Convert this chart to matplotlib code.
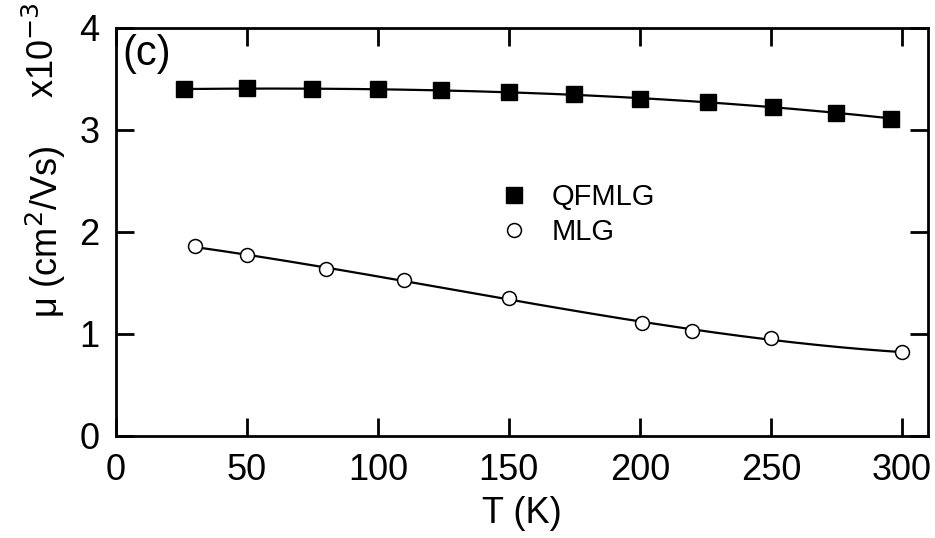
import numpy as np
import matplotlib
matplotlib.use("agg")
from matplotlib import pyplot as plt

plt.rcParams['font.family'] = ['Liberation Sans', 'DejaVu Sans']

# QFMLG (filled squares)
t_qf = [26, 50, 75, 100, 124, 150, 175, 200, 226, 251, 275, 296]
mu_qf = [3.40, 3.41, 3.40, 3.40, 3.39, 3.37, 3.35, 3.30, 3.27, 3.23, 3.17, 3.11]

# MLG (open circles)
t_mlg = [30, 50, 80, 110, 150, 201, 220, 250, 300]
mu_mlg = [1.86, 1.77, 1.64, 1.53, 1.35, 1.11, 1.03, 0.96, 0.82]

x_ticks = [0, 50, 100, 150, 200, 250, 300]
y_ticks = [0, 1, 2, 3, 4]

fig = plt.figure(figsize=(9.35, 5.38), dpi=100)
ax = fig.add_axes([0.124, 0.1896, 0.8685, 0.7584])

# smooth fit curves through the points
for tt, mm in ((t_qf, mu_qf), (t_mlg, mu_mlg)):
    c = np.polyfit(tt, mm, 3)
    xs = np.linspace(tt[0], tt[-1], 200)
    ax.plot(xs, np.polyval(c, xs), color='black', lw=1.6, zorder=2)

ax.plot(t_qf, mu_qf, ls='none', marker='s', ms=11, mfc='black', mec='black',
        zorder=3, label='QFMLG')
ax.plot(t_mlg, mu_mlg, ls='none', marker='o', ms=10, mfc='white', mec='black',
        mew=1.1, zorder=3, label='MLG')

ax.set_xlim(0, 310)
ax.set_ylim(0, 4)
ax.set_xticks(x_ticks)
ax.set_yticks(y_ticks)
ax.tick_params(direction='in', length=13, width=2, labelsize=26,
               top=True, right=True, pad=12)
for s in ax.spines.values():
    s.set_linewidth(2)

ax.set_xlabel('T (K)', fontsize=26, labelpad=6)
ax.set_ylabel('μ (cm$^2$/Vs)', fontsize=26, labelpad=8)
fig.text(0.047, 0.995, 'x10$^{-3}$', rotation=90, fontsize=26, ha='center', va='top')
ax.text(0.008, 0.985, '(c)', transform=ax.transAxes, fontsize=30, ha='left', va='top')

leg = ax.legend(loc='upper left', bbox_to_anchor=(0.44, 0.685), frameon=False,
                fontsize=21, handletextpad=0.8, labelspacing=0.25, handlelength=1.0)

fig.savefig('out.png', dpi=100)
